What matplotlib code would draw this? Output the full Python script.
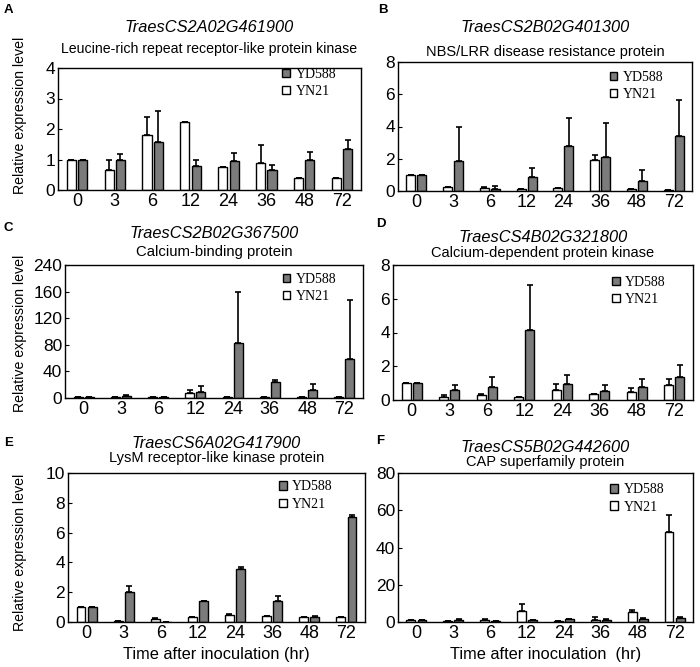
import numpy as np
import matplotlib
matplotlib.use('Agg')
import matplotlib.pyplot as plt
from matplotlib.patches import Patch

plt.rcParams['font.family'] = ['Liberation Sans', 'DejaVu Sans']

# time points (hours after inoculation)
hours = ['0', '3', '6', '12', '24', '36', '48', '72']

# A  TraesCS2A02G461900
a_yn21 = [1.0, 0.66, 1.81, 2.22, 0.74, 0.87, 0.38, 0.38]
a_yn21_err = [0, 0.34, 0.57, 0, 0, 0.61, 0, 0]
a_yd588 = [1.0, 0.99, 1.58, 0.78, 0.94, 0.64, 0.97, 1.33]
a_yd588_err = [0, 0.19, 1.02, 0.19, 0.26, 0.18, 0.27, 0.32]

# B  TraesCS2B02G401300
b_yn21 = [1.0, 0.25, 0.2, 0.1, 0.19, 1.94, 0.15, 0.08]
b_yn21_err = [0, 0, 0.05, 0.04, 0, 0.29, 0, 0]
b_yd588 = [1.0, 1.84, 0.15, 0.87, 2.78, 2.1, 0.62, 3.42]
b_yd588_err = [0, 2.16, 0.15, 0.57, 1.76, 2.1, 0.66, 2.23]

# C  TraesCS2B02G367500
c_yn21 = [1, 1.5, 0.8, 7.5, 1, 1, 1, 1]
c_yn21_err = [0, 0, 0, 5, 0, 0, 0, 0]
c_yd588 = [1, 3.5, 0.8, 8.5, 82, 23.5, 12.5, 58.5]
c_yd588_err = [0, 1.5, 0, 9, 78, 4, 8.5, 89]

# D  TraesCS4B02G321800
d_yn21 = [1.0, 0.2, 0.32, 0.16, 0.62, 0.36, 0.5, 0.86]
d_yn21_err = [0, 0.1, 0.06, 0, 0.3, 0, 0.2, 0.38]
d_yd588 = [1.0, 0.62, 0.76, 4.16, 0.96, 0.56, 0.76, 1.36]
d_yd588_err = [0, 0.28, 0.6, 2.68, 0.54, 0.32, 0.5, 0.7]

# E  TraesCS6A02G417900
e_yn21 = [1.0, 0.05, 0.2, 0.31, 0.49, 0.38, 0.31, 0.31]
e_yn21_err = [0, 0, 0.05, 0, 0.07, 0, 0, 0]
e_yd588 = [1.0, 1.98, 0.03, 1.44, 3.55, 1.44, 0.36, 7.05]
e_yd588_err = [0, 0.45, 0, 0, 0.15, 0.31, 0.05, 0.15]

# F  TraesCS5B02G442600
f_yn21 = [1, 0.3, 1, 6, 0.4, 1.2, 5.6, 48.3]
f_yn21_err = [0, 0, 0.6, 3.5, 0, 1.3, 0.7, 9.2]
f_yd588 = [1, 1, 0.5, 1, 1.4, 1, 1.6, 2.2]
f_yd588_err = [0, 0.4, 0, 0.3, 0.4, 0.5, 0.4, 0.7]

genes = ['TraesCS2A02G461900', 'TraesCS2B02G401300', 'TraesCS2B02G367500',
         'TraesCS4B02G321800', 'TraesCS6A02G417900', 'TraesCS5B02G442600']
proteins = ['Leucine-rich repeat receptor-like protein kinase',
            'NBS/LRR disease resistance protein',
            'Calcium-binding protein',
            'Calcium-dependent protein kinase',
            'LysM receptor-like kinase protein',
            'CAP superfamily protein']
yticks = [[0, 1, 2, 3, 4], [0, 2, 4, 6, 8], [0, 40, 80, 120, 160, 200],
          [0, 2, 4, 6, 8], [0, 2, 4, 6, 8, 10], [0, 20, 40, 60, 80]]
yticklabels = [['0', '1', '2', '3', '4'], ['0', '2', '4', '6', '8'],
               ['0', '40', '80', '120', '160', '240'],
               ['0', '2', '4', '6', '8'], ['0', '2', '4', '6', '8', '10'],
               ['0', '20', '40', '60', '80']]

data = [(a_yn21, a_yn21_err, a_yd588, a_yd588_err),
        (b_yn21, b_yn21_err, b_yd588, b_yd588_err),
        (c_yn21, c_yn21_err, c_yd588, c_yd588_err),
        (d_yn21, d_yn21_err, d_yd588, d_yd588_err),
        (e_yn21, e_yn21_err, e_yd588, e_yd588_err),
        (f_yn21, f_yn21_err, f_yd588, f_yd588_err)]

W, H = 700, 667
# axes boxes in pixels: left, right, top, bottom
boxes = [(58, 361, 68, 190), (398, 692, 62, 191),
         (65, 363, 265, 398), (393, 693, 265, 400),
         (68, 365, 473, 622), (398, 693, 473, 622)]
gene_y = [28, 28, 233, 238, 443, 448]
prot_y = [49, 52, 252, 253, 458, 462]
prot_size = [10.2, 10.5, 10.7, 10.5, 10.5, 10.5]
legend_xy = [(0.74, 1.0), (0.72, 0.93), (0.73, 0.94),
             (0.73, 0.92), (0.71, 0.95), (0.72, 0.93)]
letters = ['A', 'B', 'C', 'D', 'E', 'F']
letter_xy = [(4, 10), (378, 10), (4, 228), (376, 224), (4, 443), (376, 441)]
ylabel_y = [115, None, 333, None, 552, None]

fig = plt.figure(figsize=(7, 6.67), dpi=100)
x = np.arange(len(hours))
bw = 0.24
grey = '#7b7b7b'

for i in range(6):
    l, r, t, b = boxes[i]
    ax = fig.add_axes([l / W, 1 - b / H, (r - l) / W, (b - t) / H])
    yn, yn_e, yd, yd_e = data[i]
    ekw = dict(ecolor='black', elinewidth=1.2, capsize=2.5, capthick=1.2)
    ax.bar(x - 0.15, yn, bw, color='white', edgecolor='black', linewidth=1,
           yerr=[np.zeros(len(yn)), yn_e], error_kw=ekw)
    ax.bar(x + 0.15, yd, bw, color=grey, edgecolor='black', linewidth=1,
           yerr=[np.zeros(len(yd)), yd_e], error_kw=ekw)
    ax.set_xlim(-0.5, 7.5)
    ax.set_ylim(yticks[i][0], yticks[i][-1])
    ax.set_yticks(yticks[i])
    ax.set_yticklabels(yticklabels[i])
    ax.set_xticks(x)
    ax.set_xticklabels(hours)
    ax.tick_params(axis='x', length=0, labelsize=13, pad=2)
    ax.tick_params(axis='y', direction='in', length=3, labelsize=12.5, pad=2)
    for s in ax.spines.values():
        s.set_linewidth(1)

    handles = [Patch(facecolor=grey, edgecolor='black', label='YD588'),
               Patch(facecolor='white', edgecolor='black', label='YN21')]
    ax.legend(handles=handles, loc='upper left', bbox_to_anchor=legend_xy[i],
              frameon=False, borderpad=0, borderaxespad=0, handlelength=0.55,
              handleheight=0.55, handletextpad=0.4, labelspacing=0.3,
              prop={'family': 'Liberation Serif', 'size': 10})

    cx = (l + r) / 2 / W
    fig.text(cx, 1 - gene_y[i] / H, genes[i], style='italic', fontsize=11.8,
             ha='center', va='center')
    fig.text(cx, 1 - prot_y[i] / H, proteins[i], fontsize=prot_size[i],
             ha='center', va='center')
    lx, ly = letter_xy[i]
    fig.text(lx / W, 1 - ly / H, letters[i], fontsize=9.5, fontweight='bold',
             ha='left', va='center')
    if ylabel_y[i] is not None:
        fig.text(20 / W, 1 - ylabel_y[i] / H, 'Relative expression level',
                 rotation=90, fontsize=10.2, ha='center', va='center')

fig.text((68 + 365) / 2 / W, 1 - 655 / H, 'Time after inoculation (hr)',
         fontsize=11.8, ha='center', va='center')
fig.text((398 + 693) / 2 / W, 1 - 655 / H, 'Time after inoculation  (hr)',
         fontsize=11.8, ha='center', va='center')

fig.savefig('out.png', dpi=100)
